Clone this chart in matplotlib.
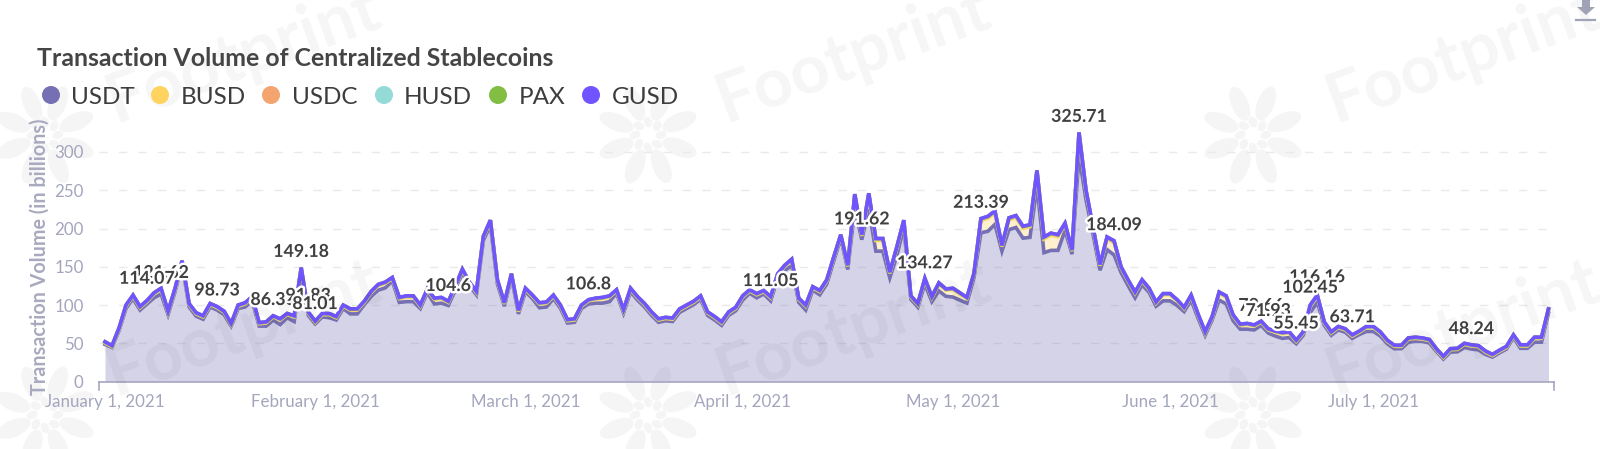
"""
plot.py
Transaction volume of centralized stablecoins, stacked area per coin.
"""

import numpy as np
import matplotlib
matplotlib.use("Agg")
import matplotlib.pyplot as plt
import matplotlib.patheffects as pe
from matplotlib.patches import Ellipse, Polygon

plt.rcParams["font.family"] = ["Lato", "DejaVu Sans"]

# Top of the stack (in billions)
total_volume = [
    52, 47, 70, 100, 113, 98, 106, 116, 122, 92,
    122, 158, 102, 90, 86, 102, 98, 92, 76, 100,
    103, 111, 77, 78, 86, 82, 89, 86, 149, 91,
    79, 89, 89, 85, 100, 95, 95, 105, 118, 127,
    130, 136, 110, 112, 112, 100, 121, 109, 110, 105,
    125, 147, 130, 118, 190, 211, 133, 103, 141, 93,
    122, 113, 103, 104, 113, 100, 81, 82, 100, 107,
    109, 110, 112, 120, 94, 122, 111, 102, 91, 82,
    84, 83, 95, 100, 105, 112, 91, 85, 78, 91, 97,
    112, 120, 115, 119, 111, 141, 152, 160, 109, 100,
    124, 119, 133, 163, 192, 152, 245, 192, 246, 187,
    187, 143, 176, 211, 112, 102, 135, 111, 129, 121,
    122, 116, 110, 141, 213, 216, 223, 178, 214,
    217, 203, 205, 276, 189, 194, 192, 207, 172, 325.7,
    250, 202, 153, 189, 184, 150, 133, 117, 133, 122,
    104, 115, 115, 107, 97, 113, 88, 65, 85, 117,
    112, 87, 75, 76, 74, 79, 69, 66, 64, 65,
    54, 65, 100, 113, 78, 65, 72, 69, 61, 66,
    72, 72, 65, 54, 47.5, 47.5, 57, 58, 57, 55,
    43, 33, 43, 43.5, 50, 48, 47, 40, 35.5, 41,
    46, 61, 48, 48, 58, 58, 95,
]

busd = [
    2, 1, 2, 3, 3, 3, 3, 5, 6, 3, 3, 3, 3, 3, 3, 3, 3, 3, 2, 3,
    4, 4, 3, 4, 4, 6, 4, 6, 4, 3, 2, 3, 4, 3, 3, 5, 5, 3, 5, 6,
    6, 3, 5, 6, 6, 3, 3, 6, 6, 4, 4, 3, 3, 3, 4, 5, 4, 3, 3, 3,
    3, 3, 5, 5, 3, 3, 3, 3, 3, 4, 5, 6, 6, 3, 3, 3, 3, 3, 3, 3,
    3, 3, 3, 3, 3, 3, 3, 3, 3, 3, 3, 4, 3, 4, 3, 4, 4, 5, 7, 4, 5,
    3, 4, 4, 4, 3, 4, 16, 5, 18, 14, 14, 6, 10, 8, 3, 3, 6, 5, 9, 8,
    10, 8, 6, 4, 16, 17, 15, 6, 13, 13, 13, 14, 18, 18, 20, 18, 8, 4, 28,
    10, 8, 6, 14, 16, 6, 6, 6, 5, 4, 4, 8, 8, 6, 4, 5, 4, 3, 3, 9,
    9, 6, 5, 6, 5, 4, 4, 5, 6, 6, 3, 3, 8, 8, 3, 3, 3, 3, 3, 3,
    5, 5, 4, 3, 3, 3, 4, 4, 3, 3, 2, 2, 3, 3, 4, 4, 4, 3, 2, 2,
    2, 2, 3, 3, 5, 5, 4,
]

usdc = [
    1, 1, 1, 1, 1, 1, 1, 1, 1, 1, 1, 1, 1, 1, 1, 1, 1, 1, 1, 1,
    1, 1, 1, 1, 1, 1, 1, 1, 1, 1, 1, 1, 1, 1, 1, 1, 1, 1, 1, 1,
    1, 1, 1, 1, 1, 1, 1, 1, 1, 1, 1, 1, 1, 1, 1, 1, 1, 1, 1, 1,
    1, 1, 1, 1, 1, 1, 1, 1, 1, 1, 1, 1, 1, 1, 1, 1, 1, 1, 1, 1,
    1, 1, 1, 1, 1, 1, 1, 1, 1, 1, 1, 1, 1, 1, 1, 1, 1, 1, 1, 1,
    1, 1, 1, 1, 1, 1, 1, 2, 1, 2, 2, 2, 1, 1, 1, 1, 1, 1, 1, 1,
    1, 1, 1, 1, 1, 2, 2, 2, 1, 2, 2, 2, 2, 2, 2, 2, 2, 1, 1, 2,
    2, 1, 1, 2, 2, 1, 1, 1, 1, 1, 1, 1, 1, 1, 1, 1, 1, 1, 1, 1,
    1, 1, 1, 1, 1, 1, 1, 1, 1, 1, 1, 1, 1, 1, 1, 1, 1, 1, 1, 1,
    1, 1, 1, 1, 1, 1, 1, 1, 1, 1, 1, 1, 1, 1, 1, 1, 1, 1, 1, 1,
    1, 1, 1, 1, 1, 1, 1,
]

husd = [
    .2, .2, .2, .2, .2, .2, .2, .2, .2, .2, .2, .2, .2, .2, .2, .2, .2, .2, .2, .2,
    .2, .2, .2, .2, .2, .2, .2, .2, .2, .2, .2, .2, .2, .2, .2, .2, .2, .2, .2, .2,
    .2, .2, .2, .2, .2, .2, .2, .2, .2, .2, .2, .2, .2, .2, .2, .2, .2, .2, .2, .2,
    .2, .2, .2, .2, .2, .2, .2, .2, .2, .2, .2, .2, .2, .2, .2, .2, .2, .2, .2, .2,
    .2, .2, .2, .2, .2, .2, .2, .2, .2, .2, .2, .2, .2, .2, .2, .2, .2, .2, .2, .2,
    .2, .2, .2, .2, .2, .2, .2, .2, .2, .2, .2, .2, .2, .2, .2, .2, .2, .2, .2, .2,
    .2, .2, .2, .2, .2, .2, .2, .2, .2, .2, .2, .2, .2, .2, .2, .2, .2, .2, .2, .2,
    .2, .2, .2, .2, .2, .2, .2, .2, .2, .2, .2, .2, .2, .2, .2, .2, .2, .2, .2, .2,
    .2, .2, .2, .2, .2, .2, .2, .2, .2, .2, .2, .2, .2, .2, .2, .2, .2, .2, .2, .2,
    .2, .2, .2, .2, .2, .2, .2, .2, .2, .2, .2, .2, .2, .2, .2, .2, .2, .2, .2, .2,
    .2, .2, .2, .2, .2, .2, .2,
]

# PAX and GUSD are thin enough to sit under the line width, same estimate for both
pax = husd
gusd = husd

series_names = ["USDT", "BUSD", "USDC", "HUSD", "PAX", "GUSD"]
series_colors = ["#7570B3", "#FFD35F", "#F4A46E", "#94DBD8", "#82BE44", "#7153FF"]

# Value labels (later ones are drawn over earlier ones)
label_index = [8, 6, 16, 24, 29, 28, 30, 49, 69, 95, 108, 117, 125, 139, 144,
               165, 166, 173, 172, 170, 178, 195]
label_value = [121.62, 114.07, 98.73, 86.33, 91.83, 149.18, 81.01, 104.6, 106.8,
               111.05, 191.62, 134.27, 213.39, 325.71, 184.09,
               78.66, 71.93, 116.16, 102.45, 55.45, 63.71, 48.24]

tick_index = [0, 30, 60, 91, 121, 152, 181]
tick_labels = ["January 1, 2021", "February 1, 2021", "March 1, 2021", "April 1, 2021",
               "May 1, 2021", "June 1, 2021", "July 1, 2021"]
y_ticks = [0, 50, 100, 150, 200, 250, 300]

W, H = 1600, 449
AXIS_COLOR = "#A5A5C0"
TICK_COLOR = "#A3A6BD"


def draw_chart(ax):
    """Stacked areas, top lines, grid and value labels."""
    x = np.arange(len(total_volume))
    others = np.array(busd) + np.array(usdc) + np.array(husd) + np.array(pax) + np.array(gusd)
    usdt = np.array(total_volume) - others

    base = np.zeros(len(x))
    for name, color, values in zip(series_names, series_colors,
                                   [usdt, busd, usdc, husd, pax, gusd]):
        top = base + np.array(values)
        ax.fill_between(x, base, top, color=color, alpha=0.3, linewidth=0, zorder=2)
        ax.plot(x, top, color=color, linewidth=2.6, solid_joinstyle="miter", zorder=3)
        base = top

    for idx, val in zip(label_index, label_value):
        ax.annotate(str(val), (idx, val), xytext=(0, 11.5), textcoords="offset points",
                    ha="center", va="center", fontsize=12.8, fontweight="bold",
                    color="#404040", zorder=6, annotation_clip=False,
                    path_effects=[pe.withStroke(linewidth=3.5, foreground="white")])

    ax.set_yticks(y_ticks)
    ax.set_xticks(tick_index)
    ax.set_xticklabels(tick_labels)
    ax.tick_params(axis="both", length=0, labelcolor=TICK_COLOR, labelsize=12.2)
    ax.tick_params(axis="x", pad=9)
    ax.tick_params(axis="y", pad=11)
    ax.grid(axis="y", color="#EAEAEA", linestyle=(0, (6, 8)), linewidth=1)
    ax.set_axisbelow(True)
    for side in ["top", "right", "left"]:
        ax.spines[side].set_visible(False)
    ax.spines["bottom"].set_color(AXIS_COLOR)
    ax.spines["bottom"].set_linewidth(1.2)


def draw_flower(back, cx, cy):
    """Footprint logo used in the watermark."""
    for k in range(8):
        a = np.deg2rad(22 + 45 * k)
        back.add_patch(Ellipse((cx + 34 * np.cos(a), cy + 34 * np.sin(a)), 36, 17,
                               angle=np.rad2deg(a), color="#F5F5F5", linewidth=0))
        back.add_patch(Ellipse((cx + 13 * np.cos(a + 0.4), cy + 13 * np.sin(a + 0.4)), 11, 8,
                               angle=np.rad2deg(a), color="#F5F5F5", linewidth=0))


def pixel_axes(fig, zorder):
    """Full-figure axes measured in picture pixels, y going down."""
    pax_ = fig.add_axes([0, 0, 1, 1], zorder=zorder)
    pax_.set_xlim(0, W)
    pax_.set_ylim(H, 0)
    pax_.axis("off")
    pax_.patch.set_alpha(0)
    return pax_


def draw_overlay(ov):
    """Title, legend, watermark text and the odd bits."""
    for cx in [243, 853, 1463]:
        for cy in [55, 328]:
            ov.text(cx, cy, "Footprint", fontsize=49, fontweight="bold", rotation=20,
                    rotation_mode="anchor", ha="center", va="center", color="#000000",
                    alpha=0.04, zorder=1)

    ov.text(37, 58, "Transaction Volume of Centralized Stablecoins", fontsize=17.9,
            fontweight="bold", color="#454545", va="center")

    circle_x = [51, 160, 271, 384, 498, 591]
    text_x = [71, 181, 292, 404, 519, 612]
    for name, color, cx, tx in zip(series_names, series_colors, circle_x, text_x):
        ov.add_patch(Ellipse((cx, 95), 18, 18, color=color, linewidth=0))
        ov.text(tx, 97, name, fontsize=17.5, color="#3D3D3D", va="center")

    ov.text(40, 257, "Transaction Volume (in billions)", fontsize=14.2, fontweight="bold",
            color="#A9A9BF", rotation=90, ha="center", va="center")

    # axis end ticks
    ov.plot([99, 99], [381.5, 390], color=AXIS_COLOR, linewidth=1.2)
    ov.plot([1554, 1554], [381.5, 390], color=AXIS_COLOR, linewidth=1.2)

    # download icon in the corner
    ov.add_patch(Polygon([(1582, 0), (1590, 0), (1590, 7), (1595, 7), (1586, 15), (1577, 7), (1582, 7)],
                         color="#A0A3B5", linewidth=0))
    ov.plot([1576, 1595], [20, 20], color="#A0A3B5", linewidth=1.6)


def main():
    fig = plt.figure(figsize=(W / 100, H / 100), dpi=100)

    back = pixel_axes(fig, -1)
    for cx in [45, 648, 1253]:
        for cy in [135, 415]:
            draw_flower(back, cx, cy)

    # Axes box in pixels: first point at x=105, last at x=1548.5, zero at y=381.5
    left, right, bottom, top = 99, 1554, 381.5, 100
    ax = fig.add_axes([left / W, 1 - bottom / H, (right - left) / W, (bottom - top) / H])
    step = (1548.5 - 105) / (len(total_volume) - 1)
    ax.set_xlim((left - 105) / step, (right - 105) / step)
    ax.set_ylim(0, (bottom - top) / 0.765)
    ax.patch.set_alpha(0)
    draw_chart(ax)

    ov = pixel_axes(fig, 5)
    draw_overlay(ov)

    fig.savefig("out.png", dpi=100)
    plt.close(fig)


if __name__ == "__main__":
    main()
